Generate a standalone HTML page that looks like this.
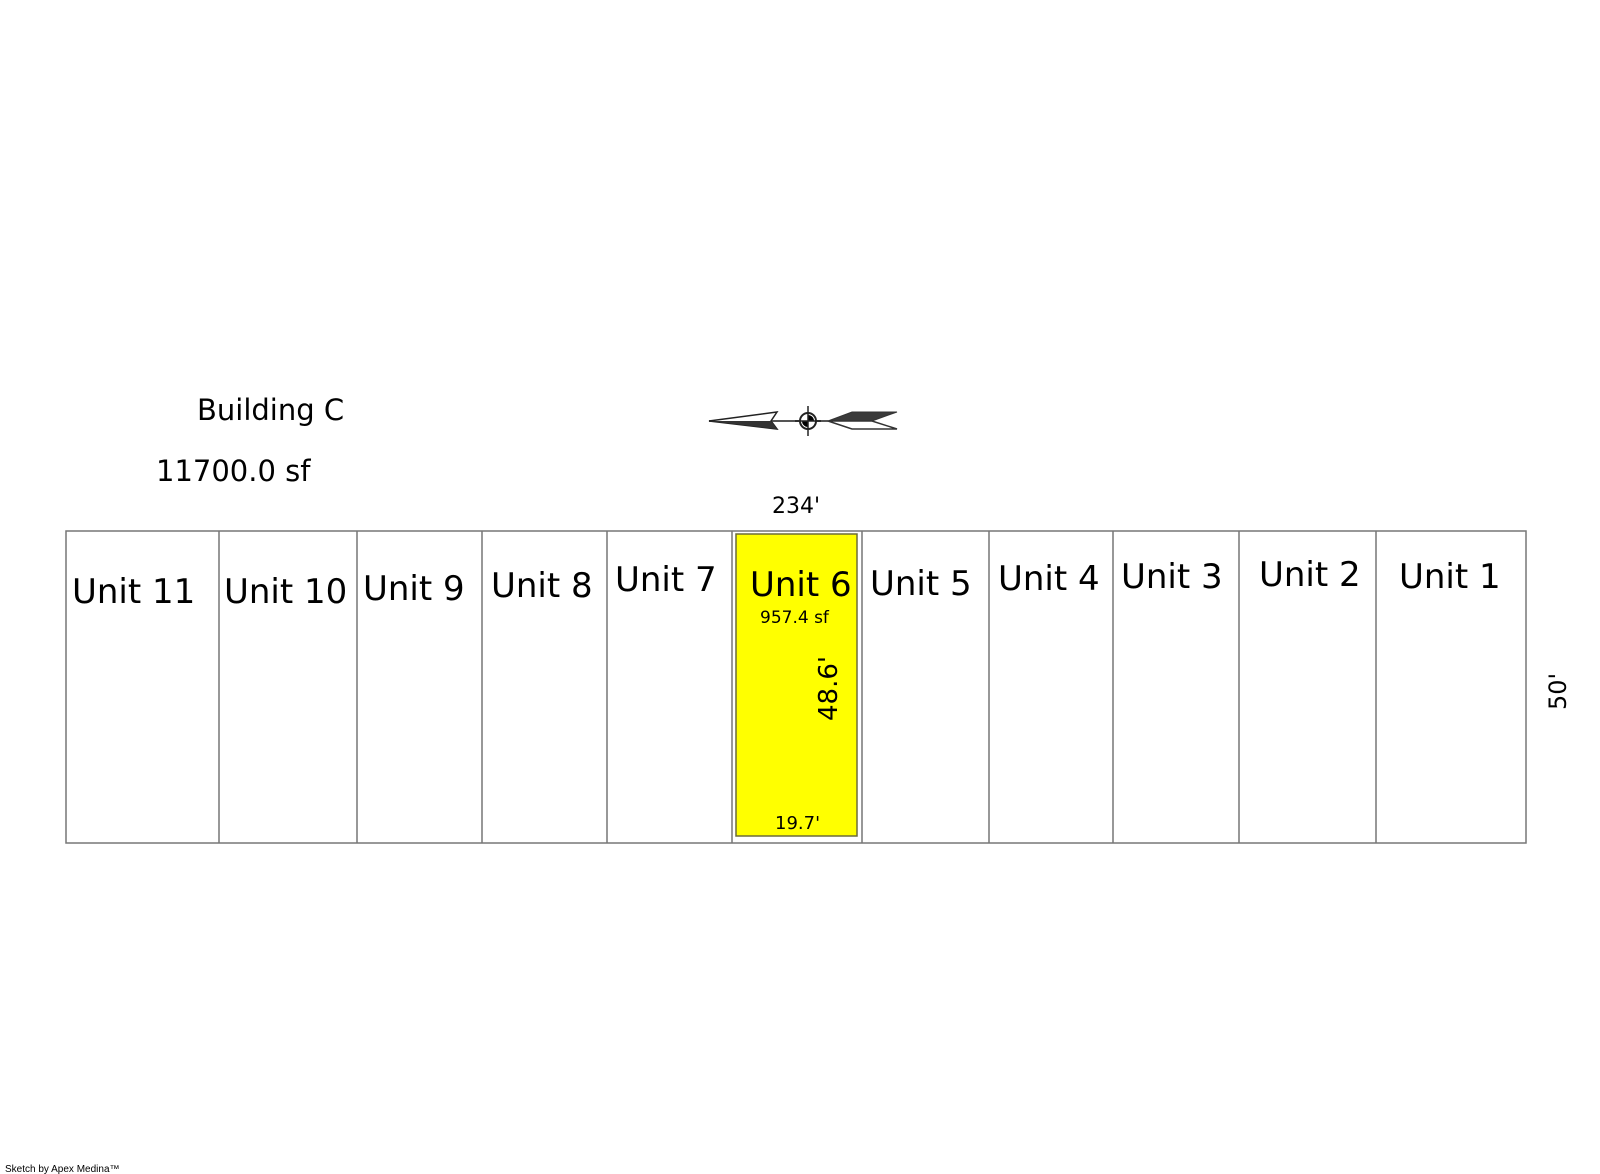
<!DOCTYPE html>
<html><head><meta charset="utf-8"><style>
html,body{margin:0;padding:0;background:#fff}
svg{display:block}
text{font-family:"DejaVu Sans","Liberation Sans",sans-serif;fill:#000}
</style></head><body>
<svg width="1600" height="1174" viewBox="0 0 1600 1174" xmlns="http://www.w3.org/2000/svg">
<text x="197" y="420" font-size="29">Building C</text>
<text x="156" y="481" font-size="29">11700.0 sf</text>
<!-- compass -->
<line x1="709" y1="421" x2="828" y2="421" stroke="#555" stroke-width="2"/>
<polygon points="709,421 777,412 771,421 777,429" fill="#fff" stroke="#222" stroke-width="1.5"/>
<polygon points="709,421 771,421 777,429" fill="#333"/>
<circle cx="808" cy="421" r="8" fill="#fff" stroke="#222" stroke-width="2"/>
<path d="M808,421 L808,415 A6,6 0 0 1 814,421 Z M808,421 L808,427 A6,6 0 0 1 802,421 Z" fill="#000"/>
<line x1="808" y1="406" x2="808" y2="436" stroke="#222" stroke-width="1.5"/>
<line x1="795" y1="421" x2="821" y2="421" stroke="#222" stroke-width="1.5"/>
<polygon points="828,421 852,412 897,412 872,421" fill="#3a3a3a" stroke="#333"/>
<polygon points="828,421 872,421 897,429 852,429" fill="#fff" stroke="#333" stroke-width="1.5"/>
<text x="772" y="513" font-size="22">234'</text>
<!-- building -->
<rect x="66" y="531" width="1460" height="312" fill="#fff" stroke="#777" stroke-width="1.5"/>
<rect x="736" y="534" width="121" height="302" fill="#ffff00" stroke="#6b6b3a" stroke-width="1.5"/>
<g stroke="#777" stroke-width="1.5">
<line x1="219" y1="531" x2="219" y2="843"/><line x1="357" y1="531" x2="357" y2="843"/>
<line x1="482" y1="531" x2="482" y2="843"/><line x1="607" y1="531" x2="607" y2="843"/>
<line x1="732" y1="531" x2="732" y2="843"/><line x1="862" y1="531" x2="862" y2="843"/>
<line x1="989" y1="531" x2="989" y2="843"/><line x1="1113" y1="531" x2="1113" y2="843"/>
<line x1="1239" y1="531" x2="1239" y2="843"/><line x1="1376" y1="531" x2="1376" y2="843"/>
</g>
<g font-size="34">
<text x="72" y="603">Unit 11</text>
<text x="224" y="603">Unit 10</text>
<text x="363" y="600">Unit 9</text>
<text x="491" y="597">Unit 8</text>
<text x="615" y="591">Unit 7</text>
<text x="750" y="596">Unit 6</text>
<text x="870" y="595">Unit 5</text>
<text x="998" y="590">Unit 4</text>
<text x="1121" y="588">Unit 3</text>
<text x="1259" y="586">Unit 2</text>
<text x="1399" y="588">Unit 1</text>
</g>
<text x="760" y="623" font-size="17">957.4 sf</text>
<text x="0" y="0" font-size="26" transform="translate(837,721) rotate(-90)">48.6'</text>
<text x="775" y="829" font-size="18">19.7'</text>
<text x="0" y="0" font-size="24" transform="translate(1566,710) rotate(-90)">50'</text>
<text x="5" y="1172" font-size="10" style="font-family:'Liberation Sans',sans-serif">Sketch by Apex Medina™</text>
</svg>
</body></html>
